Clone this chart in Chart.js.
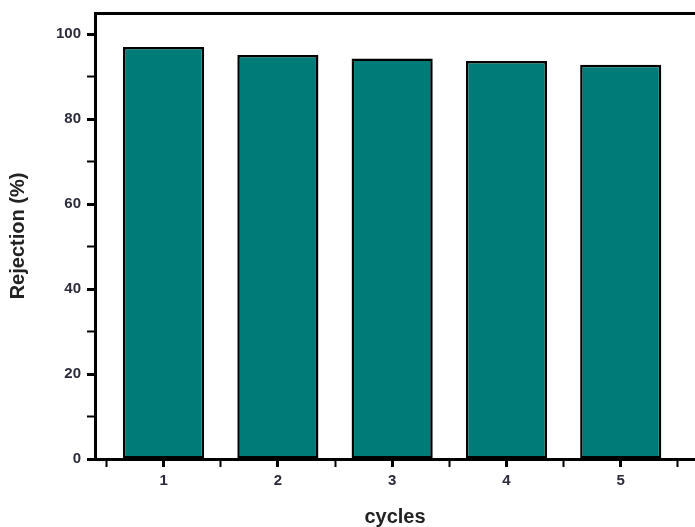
<!DOCTYPE html>
<html>
<head>
<meta charset="utf-8">
<script src="https://cdn.jsdelivr.net/npm/chart.js@4"></script>
<style>
    html, body { margin: 0; padding: 0; background: #fff; overflow: hidden; }
    .graph_div { width: 695px; height: 527px; position: relative; }
</style>
</head>
<body>
<div class="graph_div"><canvas id="chart"></canvas></div>
<script>
// values
const cycles = [1, 2, 3, 4, 5];
const rejection = [97.0, 95.1, 94.3, 93.7, 92.8];
const xTickValues = [0.5, 1, 1.5, 2, 2.5, 3, 3.5, 4, 4.5, 5, 5.5];
const yTickValues = [0, 10, 20, 30, 40, 50, 60, 70, 80, 90, 100];

const barColor = "#007b77";
const fontFamily = "'Liberation Sans', Arial, sans-serif";

const ctx = document.getElementById("chart");

new Chart(ctx, {
    type: "bar",
    data: {
        datasets: [{
            label: "Rejection",
            data: cycles.map((c, i) => ({ x: c, y: rejection[i] })),
            backgroundColor: barColor,
            borderColor: "#000",
            borderWidth: 2.5,
            borderSkipped: false,
            // width is taken from the tick spacing (half a cycle)
            categoryPercentage: 1,
            barPercentage: 1.42
        }]
    },
    options: {
        responsive: true,
        maintainAspectRatio: false,
        animation: false,
        layout: { padding: { top: 13, left: 6, right: 0, bottom: 0 } },
        plugins: {
            legend: { display: false },
            tooltip: { enabled: false }
        },
        scales: {
            x: {
                type: "linear",
                min: 0.4,
                max: 5.65,
                offset: false,
                afterBuildTicks: s => { s.ticks = xTickValues.map(v => ({ value: v })); },
                grid: {
                    offset: false,
                    drawOnChartArea: false,
                    drawTicks: true,
                    tickLength: 8,
                    tickColor: "#000",
                    tickWidth: c => (Number.isInteger(c.tick.value) ? 3 : 2)
                },
                border: { display: true, color: "#000", width: 3 },
                ticks: {
                    autoSkip: false,
                    maxRotation: 0,
                    padding: 5,
                    color: "#2b2b3b",
                    font: { family: fontFamily, size: 15, weight: "bold" },
                    callback: v => (Number.isInteger(v) ? v : "")
                },
                title: {
                    display: true,
                    text: "cycles",
                    color: "#222",
                    padding: { top: 12, bottom: 0 },
                    font: { family: fontFamily, size: 20, weight: "bold", lineHeight: 1 }
                }
            },
            top: {
                type: "linear",
                position: "top",
                min: 0,
                max: 1,
                grid: { drawOnChartArea: false, drawTicks: false },
                border: { display: true, color: "#000", width: 3 },
                ticks: { display: false }
            },
            y: {
                min: 0,
                max: 105,
                afterBuildTicks: s => { s.ticks = yTickValues.map(v => ({ value: v })); },
                // the top label sits well below the frame, so no extra room above it
                afterFit: s => { s.paddingTop = 0; },
                grid: {
                    drawOnChartArea: false,
                    drawTicks: true,
                    tickLength: 8,
                    tickColor: "#000",
                    tickWidth: c => (c.tick.value % 20 === 0 ? 3 : 2)
                },
                border: { display: true, color: "#000", width: 3 },
                ticks: {
                    autoSkip: false,
                    padding: 6,
                    color: "#2b2b3b",
                    font: { family: fontFamily, size: 15, weight: "bold" },
                    callback: v => (v % 20 === 0 ? v : "")
                },
                title: {
                    display: true,
                    text: "Rejection (%)",
                    color: "#222",
                    padding: { top: 0, bottom: 20 },
                    font: { family: fontFamily, size: 20, weight: "bold" }
                }
            }
        }
    }
});
</script>
</body>
</html>
